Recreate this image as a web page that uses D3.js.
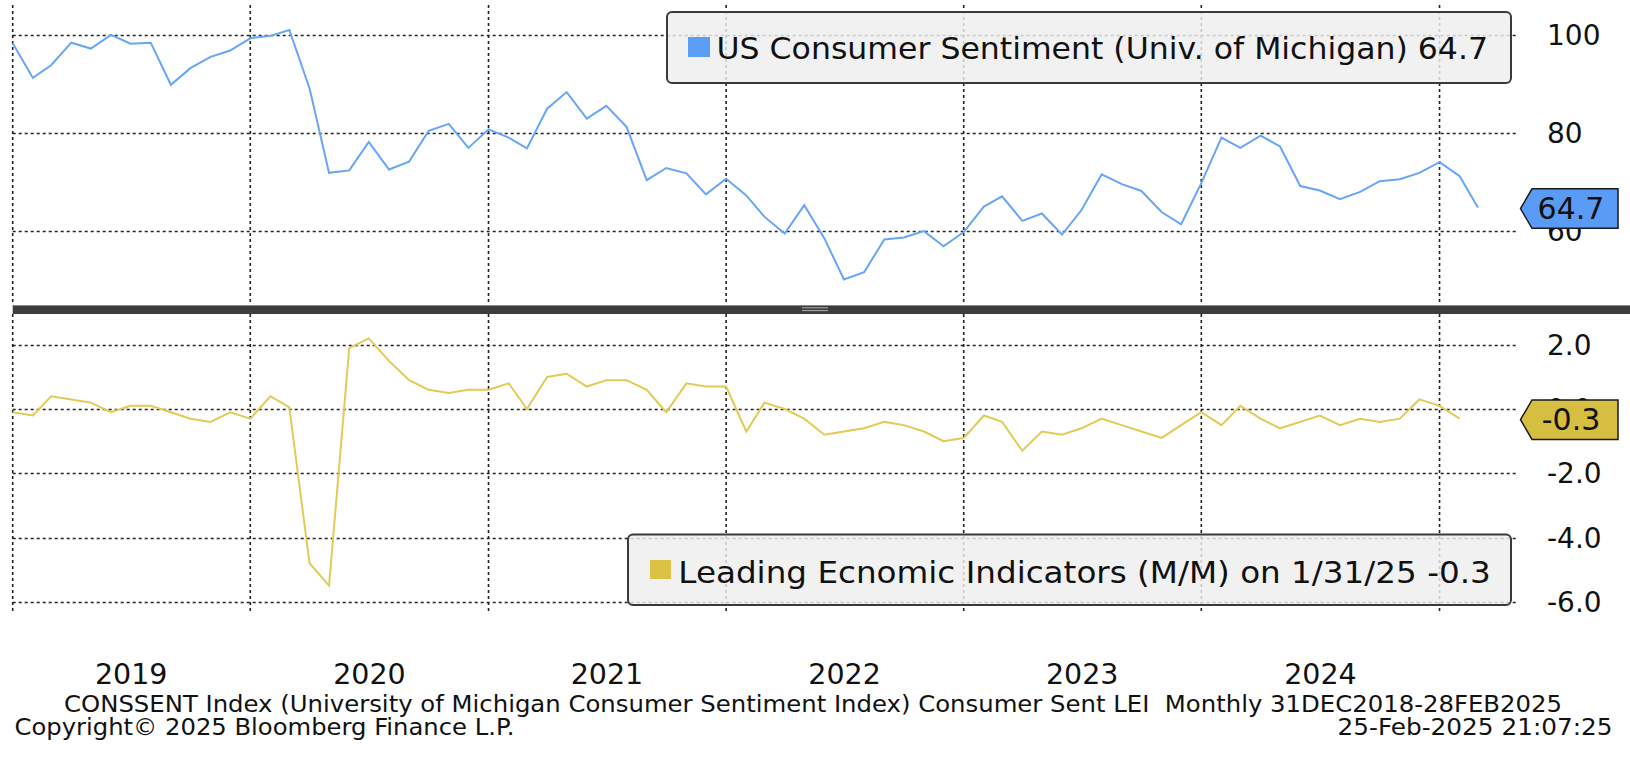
<!DOCTYPE html>
<html><head><meta charset="utf-8">
<script src="https://cdn.jsdelivr.net/npm/d3@7"></script>
<style>html,body{margin:0;padding:0;background:#fff;overflow:hidden}</style>
</head><body><svg id="c" width="1630" height="758"></svg>
<script>
// ---- data (monthly, month-end, starting Dec 2018) ----
const firstYear = 2019; // month index 0 = Dec 2018 (end of month)
const sentiment = [
  98.3,
  91.2, 93.8, 98.4, 97.2, 100.0, 98.2, 98.4, 89.8, 93.2, 95.5, 96.8, 99.3,
  99.8, 101.0, 89.1, 71.8, 72.3, 78.1, 72.5, 74.1, 80.4, 81.8, 76.9, 80.7,
  79.0, 76.8, 84.9, 88.3, 82.9, 85.5, 81.2, 70.3, 72.8, 71.7, 67.4, 70.6,
  67.2, 62.8, 59.4, 65.2, 58.4, 50.0, 51.5, 58.2, 58.6, 59.9, 56.8, 59.7,
  64.9, 67.0, 62.0, 63.5, 59.2, 64.2, 71.5, 69.5, 68.1, 63.8, 61.3, 69.7,
  79.0, 76.9, 79.4, 77.2, 69.1, 68.2, 66.4, 67.9, 70.1, 70.5, 71.8, 74.0,
  71.1, 64.7
];
const lei = [
  -0.1,
  -0.2, 0.4, 0.3, 0.2, -0.1, 0.1, 0.1, -0.1, -0.3, -0.4, -0.1, -0.3,
  0.4, 0.05, -4.8, -5.5, 1.9, 2.2, 1.5, 0.9, 0.6, 0.5, 0.6, 0.6,
  0.8, 0.0, 1.0, 1.1, 0.7, 0.9, 0.9, 0.6, -0.1, 0.8, 0.7, 0.7,
  -0.7, 0.2, 0.0, -0.3, -0.8, -0.7, -0.6, -0.4, -0.5, -0.7, -1.0, -0.9,
  -0.2, -0.4, -1.3, -0.7, -0.8, -0.6, -0.3, -0.5, -0.7, -0.9, -0.5, -0.1,
  -0.5, 0.1, -0.3, -0.6, -0.4, -0.2, -0.5, -0.3, -0.4, -0.3, 0.3, 0.1,
  -0.3
];
const yearLabels = ["2019", "2020", "2021", "2022", "2023", "2024"];
const gridYears = [2019, 2020, 2021, 2022, 2023, 2024, 2025];
const topTicks = [60, 80, 100];
const bottomTicks = [-6, -4, -2, 0, 2];
const topLegend = "US Consumer Sentiment (Univ. of Michigan) 64.7";
const bottomLegend = "Leading Ecnomic Indicators (M/M) on 1/31/25 -0.3";
const footer1 = "CONSSENT Index (University of Michigan Consumer Sentiment Index) Consumer Sent LEI\u00A0 Monthly 31DEC2018-28FEB2025";
const footer2 = "Copyright\u00A9 2025 Bloomberg Finance L.P.";
const footer3 = "25-Feb-2025 21:07:25";

// ---- setup ----
const svg = d3.select("#c");
const FONT = "'DejaVu Sans', Verdana, sans-serif";
const monthEnd = i => new Date(firstYear, i, 0); // i=0 -> 31 Dec 2018
const sentData = sentiment.map((v, i) => ({d: monthEnd(i), v}));
const leiData = lei.map((v, i) => ({d: monthEnd(i), v}));

const x = d3.scaleTime()
  .domain([new Date(2018, 11, 31), new Date(2025, 3, 29)])
  .range([12.7, 1517]);
const yTop = d3.scaleLinear().domain([44.8, 106.1]).range([305, 5]);
const yBot = d3.scaleLinear().domain([-6.32, 2.96]).range([612, 314]);

const gridStyle = s => s.attr("stroke", "#222").attr("stroke-width", 1.6)
  .attr("stroke-dasharray", "3,3").attr("fill", "none");

function panel(y, ticks, top, bottom) {
  const g = svg.append("g");
  g.selectAll("line.h").data(ticks).join("line").attr("class", "h")
    .attr("x1", x.range()[0]).attr("x2", x.range()[1])
    .attr("y1", d => Math.round(y(d)) + 0.5).attr("y2", d => Math.round(y(d)) + 0.5)
    .call(gridStyle);
  g.selectAll("line.v").data(gridYears).join("line").attr("class", "v")
    .attr("x1", d => x(new Date(d - 1, 11, 31))).attr("x2", d => x(new Date(d - 1, 11, 31)))
    .attr("y1", top).attr("y2", bottom)
    .call(gridStyle);
  g.selectAll("text").data(ticks).join("text")
    .attr("x", 1547).attr("y", d => y(d)).attr("dy", "0.36em")
    .attr("font-family", FONT).attr("font-size", 28).attr("fill", "#111")
    .text(d => y === yTop ? String(d) : d.toFixed(1));
  return g;
}
panel(yTop, topTicks, 5, 305);
panel(yBot, bottomTicks, 314, 612);

function legend(bx, by, bw, bh, color, sq, tx, ty, tw, label) {
  svg.append("rect").attr("x", bx).attr("y", by).attr("width", bw).attr("height", bh)
    .attr("rx", 5).attr("fill", "#eeeeee").attr("fill-opacity", 0.82)
    .attr("stroke", "#3a3a3a").attr("stroke-width", 2);
  svg.append("rect").attr("x", sq[0]).attr("y", sq[1]).attr("width", sq[2]).attr("height", sq[3])
    .attr("fill", color);
  svg.append("text").attr("x", tx).attr("y", ty)
    .attr("font-family", FONT).attr("font-size", 30).attr("fill", "#111")
    .attr("textLength", tw).attr("lengthAdjust", "spacingAndGlyphs")
    .text(label);
}

const lineTop = d3.line().x(d => x(d.d)).y(d => yTop(d.v));
const lineBot = d3.line().x(d => x(d.d)).y(d => yBot(d.v));
svg.append("path").datum(sentData).attr("d", lineTop)
  .attr("fill", "none").attr("stroke", "#67a5f7").attr("stroke-width", 2);
svg.append("path").datum(leiData).attr("d", lineBot)
  .attr("fill", "none").attr("stroke", "#e2cb55").attr("stroke-width", 2);

legend(667, 12, 844, 71, "#5b9cf4", [688, 37, 22, 20], 716.5, 59.3, 771.5, topLegend);
legend(628, 534.5, 883, 70.5, "#d9c244", [650, 560, 21, 19], 678.3, 583.3, 812.5, bottomLegend);

svg.append("rect").attr("x", 12.7).attr("y", 305).attr("width", 1630 - 12.7).attr("height", 9)
  .attr("fill", "#3d3d3d");
svg.append("line").attr("x1", 12.7).attr("x2", 1630).attr("y1", 305.5).attr("y2", 305.5)
  .attr("stroke", "#8a8a8a").attr("stroke-width", 1);
[307.8, 310.6].forEach(yy => svg.append("line").attr("x1", 802).attr("x2", 828)
  .attr("y1", yy).attr("y2", yy).attr("stroke", "#b0b0b0").attr("stroke-width", 1));

function tag(yv, fill, label) {
  const c = yv + 1, h = 39.5;
  const pts = [[1520.5, c], [1532, c - h / 2], [1618, c - h / 2], [1618, c + h / 2], [1532, c + h / 2]];
  svg.append("path").attr("d", "M" + pts.join("L") + "Z")
    .attr("fill", fill).attr("stroke", "#1a1a1a").attr("stroke-width", 1.5);
  svg.append("text").attr("x", 1571).attr("y", c).attr("dy", "0.36em")
    .attr("text-anchor", "middle").attr("font-family", FONT).attr("font-size", 30)
    .attr("fill", "#111").text(label);
}
tag(yTop(sentiment[sentiment.length - 1]), "#5a9cf5", sentiment[sentiment.length - 1].toFixed(1));
tag(yBot(lei[lei.length - 1]), "#d6bf40", lei[lei.length - 1].toFixed(1));

svg.selectAll("text.year").data(yearLabels).join("text").attr("class", "year")
  .attr("x", d => x(new Date(+d, 6, 1))).attr("y", 684)
  .attr("text-anchor", "middle").attr("font-family", FONT).attr("font-size", 28.5)
  .attr("fill", "#111").text(d => d);

svg.append("text").attr("x", 64).attr("y", 711.7).attr("font-family", FONT).attr("font-size", 23)
  .attr("fill", "#111").attr("textLength", 1498).attr("lengthAdjust", "spacingAndGlyphs").text(footer1);
svg.append("text").attr("x", 14.5).attr("y", 735).attr("font-family", FONT).attr("font-size", 23)
  .attr("fill", "#111").attr("textLength", 500).attr("lengthAdjust", "spacingAndGlyphs").text(footer2);
svg.append("text").attr("x", 1337.5).attr("y", 735).attr("font-family", FONT).attr("font-size", 23)
  .attr("fill", "#111").attr("textLength", 275).attr("lengthAdjust", "spacingAndGlyphs").text(footer3);
</script></body></html>
